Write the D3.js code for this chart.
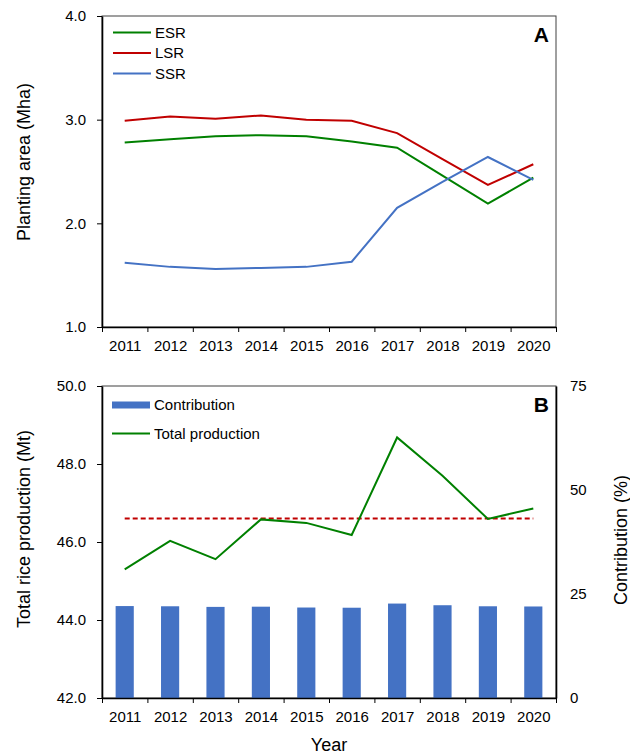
<!DOCTYPE html>
<html>
<head>
<meta charset="utf-8">
<script src="https://cdn.jsdelivr.net/npm/d3@7"></script>
<style>
  body { margin: 0; background: #fff; }
  svg { font-family: "Liberation Sans", Arial, sans-serif; }
  .axis text { font-size: 15px; fill: #000; }
  .axis path, .axis line { stroke: #000; }
  .title { font-size: 18px; fill: #000; }
  .legend { font-size: 15px; fill: #000; }
  .panel { font-size: 21px; font-weight: bold; fill: #000; }
</style>
</head>
<body>
<svg id="chart" width="630" height="756"></svg>
<script>
// data
const years = [2011, 2012, 2013, 2014, 2015, 2016, 2017, 2018, 2019, 2020];
const esr = [2.78, 2.81, 2.84, 2.85, 2.84, 2.79, 2.73, 2.46, 2.19, 2.44];
const lsr = [2.99, 3.03, 3.01, 3.04, 3.00, 2.99, 2.87, 2.62, 2.37, 2.57];
const ssr = [1.62, 1.58, 1.56, 1.57, 1.58, 1.63, 2.15, 2.40, 2.64, 2.42];
const totalProduction = [45.30, 46.03, 45.56, 46.58, 46.49, 46.18, 48.68, 47.70, 46.59, 46.86];
const contribution = [22.1, 22.05, 21.9, 21.95, 21.75, 21.7, 22.7, 22.3, 22.05, 22.0];
const meanProduction = 46.6;
const areaTicks = [1, 2, 3, 4];
const prodTicks = [42, 44, 46, 48, 50];
const contribTicks = [0, 25, 50, 75];

const green = '#008000';
const red = '#C00000';
const blue = '#4472C4';

const svg = d3.select('#chart');

// shared horizontal geometry
const left = 102;
const right = 556;
const xScale = d3.scaleLinear()
        .domain([years[0] - 0.5, years[years.length - 1] + 0.5])
        .range([left, right]);
const boundaries = d3.range(years[0] - 0.5, years[years.length - 1] + 1, 1);
const fmt1 = d3.format('.1f');

function drawFrame(top, bottom) {
    // thin border on top and right
    svg.append('rect')
            .attr('x', left)
            .attr('y', top)
            .attr('width', right - left)
            .attr('height', bottom - top)
            .attr('fill', 'none')
            .attr('stroke', '#404040')
            .attr('stroke-width', 1);
}

function drawXAxis(bottom) {
    // boundary ticks
    svg.append('g')
            .attr('class', 'axis')
            .attr('transform', `translate(0, ${bottom})`)
            .call(d3.axisBottom(xScale)
                    .tickValues(boundaries)
                    .tickFormat('')
                    .tickSizeInner(5)
                    .tickSizeOuter(0))
            .call(g => g.select('.domain').attr('stroke-width', 1.6));
    // year labels at band centres
    svg.append('g')
            .attr('class', 'axis')
            .attr('transform', `translate(0, ${bottom})`)
            .call(d3.axisBottom(xScale)
                    .tickValues(years)
                    .tickFormat(d3.format('d'))
                    .tickSize(0)
                    .tickPadding(13))
            .call(g => g.select('.domain').remove());
}

// ---------- panel A ----------
const aTop = 16;
const aBottom = 327;
const yArea = d3.scaleLinear().domain([1, 4]).range([aBottom, aTop]);

drawFrame(aTop, aBottom);
drawXAxis(aBottom);
svg.append('g')
        .attr('class', 'axis')
        .attr('transform', `translate(${left}, 0)`)
        .call(d3.axisLeft(yArea)
                .tickValues(areaTicks)
                .tickFormat(fmt1)
                .tickSizeInner(5)
                .tickSizeOuter(0)
                .tickPadding(11))
        .call(g => g.select('.domain').attr('stroke-width', 1.6));

const areaSeries = [
    { name: 'ESR', values: esr, color: green },
    { name: 'LSR', values: lsr, color: red },
    { name: 'SSR', values: ssr, color: blue }
];
const areaLine = d3.line()
        .x((d, i) => xScale(years[i]))
        .y(d => yArea(d));
areaSeries.forEach(s => {
    svg.append('path')
            .datum(s.values)
            .attr('d', areaLine)
            .attr('fill', 'none')
            .attr('stroke', s.color)
            .attr('stroke-width', 2);
});

// legend A
areaSeries.forEach((s, i) => {
    const y = 32.5 + i * 20.5;
    svg.append('line')
            .attr('x1', 113).attr('x2', 151)
            .attr('y1', y).attr('y2', y)
            .attr('stroke', s.color)
            .attr('stroke-width', 2);
    svg.append('text')
            .attr('class', 'legend')
            .attr('x', 155)
            .attr('y', y)
            .attr('dy', '0.35em')
            .text(s.name);
});

svg.append('text')
        .attr('class', 'panel')
        .attr('x', 549)
        .attr('y', 42)
        .attr('text-anchor', 'end')
        .text('A');

svg.append('text')
        .attr('class', 'title')
        .attr('transform', 'translate(24, 162) rotate(-90)')
        .attr('text-anchor', 'middle')
        .attr('dy', '0.35em')
        .text('Planting area (Mha)');

// ---------- panel B ----------
const bTop = 386;
const bBottom = 698;
const yProd = d3.scaleLinear().domain([42, 50]).range([bBottom, bTop]);
const yContrib = d3.scaleLinear().domain([0, 75]).range([bBottom, bTop]);

drawFrame(bTop, bBottom);

// bars first so axes sit on top
const barWidth = 0.4 * (xScale(1) - xScale(0));
svg.append('g')
        .selectAll('rect')
        .data(contribution)
        .enter()
        .append('rect')
        .attr('x', (d, i) => xScale(years[i]) - barWidth / 2)
        .attr('y', d => yContrib(d))
        .attr('width', barWidth)
        .attr('height', d => bBottom - yContrib(d))
        .attr('fill', blue);

drawXAxis(bBottom);
svg.append('g')
        .attr('class', 'axis')
        .attr('transform', `translate(${left}, 0)`)
        .call(d3.axisLeft(yProd)
                .tickValues(prodTicks)
                .tickFormat(fmt1)
                .tickSizeInner(5)
                .tickSizeOuter(0)
                .tickPadding(11))
        .call(g => g.select('.domain').attr('stroke-width', 1.6));
svg.append('g')
        .attr('class', 'axis')
        .attr('transform', `translate(${right}, 0)`)
        .call(d3.axisRight(yContrib)
                .tickValues(contribTicks)
                .tickSize(0)
                .tickPadding(14))
        .call(g => g.select('.domain').attr('stroke-width', 1.6));

// mean line
svg.append('line')
        .attr('x1', xScale(years[0]))
        .attr('x2', xScale(years[years.length - 1]))
        .attr('y1', yProd(meanProduction))
        .attr('y2', yProd(meanProduction))
        .attr('stroke', red)
        .attr('stroke-width', 2)
        .attr('stroke-dasharray', '5,3');

const prodLine = d3.line()
        .x((d, i) => xScale(years[i]))
        .y(d => yProd(d));
svg.append('path')
        .datum(totalProduction)
        .attr('d', prodLine)
        .attr('fill', 'none')
        .attr('stroke', green)
        .attr('stroke-width', 2);

// legend B
svg.append('rect')
        .attr('x', 112).attr('y', 401.5)
        .attr('width', 38).attr('height', 7)
        .attr('fill', blue);
svg.append('text')
        .attr('class', 'legend')
        .attr('x', 154)
        .attr('y', 405)
        .attr('dy', '0.35em')
        .text('Contribution');
svg.append('line')
        .attr('x1', 112).attr('x2', 150)
        .attr('y1', 433.5).attr('y2', 433.5)
        .attr('stroke', green)
        .attr('stroke-width', 2);
svg.append('text')
        .attr('class', 'legend')
        .attr('x', 154)
        .attr('y', 433.5)
        .attr('dy', '0.35em')
        .text('Total production');

svg.append('text')
        .attr('class', 'panel')
        .attr('x', 549)
        .attr('y', 412)
        .attr('text-anchor', 'end')
        .text('B');

svg.append('text')
        .attr('class', 'title')
        .attr('transform', 'translate(24, 529) rotate(-90)')
        .attr('text-anchor', 'middle')
        .attr('dy', '0.35em')
        .text('Total rice production (Mt)');
svg.append('text')
        .attr('class', 'title')
        .attr('transform', 'translate(621, 540) rotate(-90)')
        .attr('text-anchor', 'middle')
        .attr('dy', '0.35em')
        .text('Contribution (%)');
svg.append('text')
        .attr('class', 'title')
        .attr('x', (left + right) / 2)
        .attr('y', 751)
        .attr('text-anchor', 'middle')
        .text('Year');
</script>
</body>
</html>
